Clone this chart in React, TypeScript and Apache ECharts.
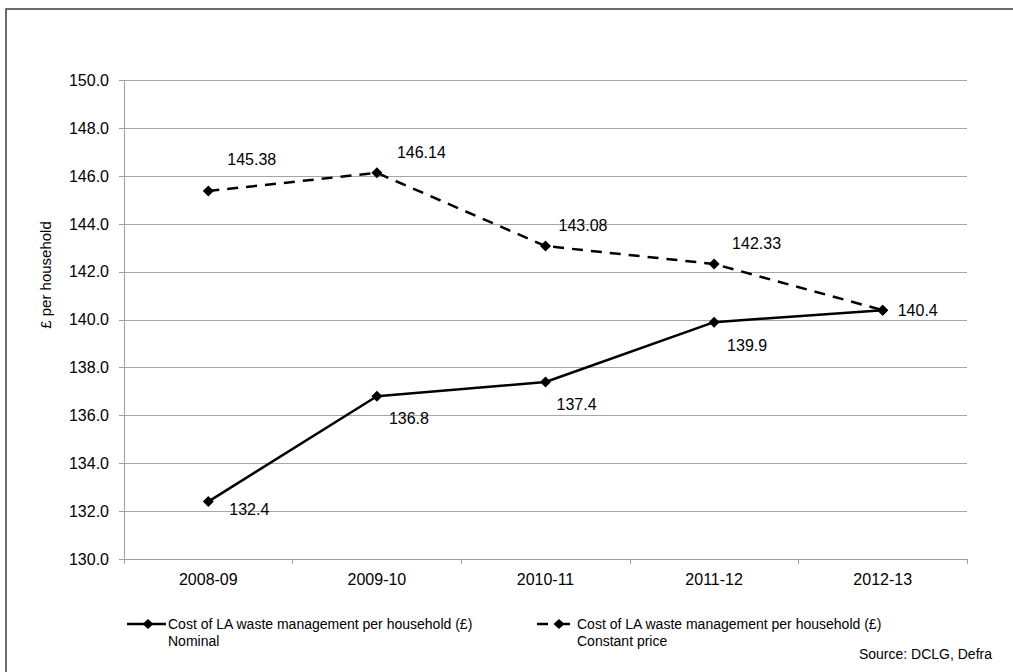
import React, { useEffect, useRef } from "react";
import * as echarts from "echarts";

// Financial years on the category axis
const categories = ["2008-09", "2009-10", "2010-11", "2011-12", "2012-13"];

// Cost of LA waste management per household (£)
const nominalValues = [132.4, 136.8, 137.4, 139.9, 140.4];
const constantValues = [145.38, 146.14, 143.08, 142.33, 140.4];

// Value axis range and step
const yMin = 130;
const yMax = 150;
const yStep = 2;

const seriesNames = [
  "Cost of LA waste management per household (£) Nominal",
  "Cost of LA waste management per household (£) Constant price",
];

// Label placement relative to each point (left edge / vertical middle)
const nominalLabelOffsets: [number, number][] = [
  [21, 8],
  [12, 22],
  [11, 23],
  [13, 23],
  [15, 0],
];
const constantLabelOffsets: [number, number][] = [
  [19, -32],
  [20, -20],
  [13, -21],
  [18, -21],
  [0, 0],
];

const FONT = "'Liberation Sans', Arial, sans-serif";
const SYMBOL = 11;

function buildData(values: number[], offsets: [number, number][], hideLast: boolean) {
  return values.map((v, i) => ({
    value: v,
    label: {
      show: !(hideLast && i === values.length - 1),
      offset: [offsets[i][0] - SYMBOL / 2, offsets[i][1]],
    },
  }));
}

export default function App() {
  const ref = useRef<HTMLDivElement>(null);

  useEffect(() => {
    document.body.style.margin = "0";
    if (!ref.current) return;
    const chart = echarts.init(ref.current, null, { renderer: "svg" });

    const labelStyle = {
      show: true,
      position: "right" as const,
      distance: 0,
      color: "#000",
      fontSize: 16,
      fontFamily: FONT,
      formatter: (p: any) => String(p.value),
    };

    const legendText = (x: number, y: number, text: string) => ({
      type: "text",
      x,
      y,
      style: {
        text,
        fontSize: 14,
        fontFamily: FONT,
        fill: "#000",
        textVerticalAlign: "middle",
      },
    });

    const diamond = (cx: number, cy: number) => ({
      type: "polygon",
      shape: {
        points: [
          [cx, cy - 5],
          [cx + 5.5, cy],
          [cx, cy + 5],
          [cx - 5.5, cy],
        ],
      },
      style: { fill: "#000" },
    });

    chart.setOption({
      animation: false,
      backgroundColor: "#fff",
      grid: { left: 124, right: 46, top: 80.5, bottom: 113, containLabel: false },
      xAxis: {
        type: "category",
        data: categories,
        boundaryGap: true,
        axisLine: { lineStyle: { color: "#a0a0a0", width: 1 } },
        axisTick: { show: true, alignWithLabel: false, length: 5, lineStyle: { color: "#a0a0a0" } },
        axisLabel: { color: "#000", fontSize: 16, fontFamily: FONT, margin: 12 },
      },
      yAxis: {
        type: "value",
        min: yMin,
        max: yMax,
        interval: yStep,
        axisLine: { show: true, lineStyle: { color: "#a0a0a0", width: 1 } },
        axisTick: { show: true, length: 5, lineStyle: { color: "#a0a0a0" } },
        axisLabel: {
          color: "#000",
          fontSize: 16,
          fontFamily: FONT,
          margin: 15,
          formatter: (v: number) => v.toFixed(1),
        },
        splitLine: { show: true, lineStyle: { color: "#a6a6a6", width: 1 } },
      },
      series: [
        {
          name: seriesNames[0],
          type: "line",
          data: buildData(nominalValues, nominalLabelOffsets, false),
          symbol: "diamond",
          symbolSize: SYMBOL,
          itemStyle: { color: "#000" },
          lineStyle: { color: "#000", width: 2.5, type: "solid" },
          label: labelStyle,
          z: 3,
        },
        {
          name: seriesNames[1],
          type: "line",
          data: buildData(constantValues, constantLabelOffsets, true),
          symbol: "diamond",
          symbolSize: SYMBOL,
          itemStyle: { color: "#000" },
          lineStyle: { color: "#000", width: 2.5, type: [11, 8] },
          label: labelStyle,
          z: 2,
        },
      ],
      graphic: [
        // outer frame
        {
          type: "rect",
          shape: { x: 6, y: 9, width: 1030, height: 690 },
          style: { fill: "none", stroke: "#3c3c3c", lineWidth: 1.5 },
          silent: true,
        },
        // value axis title
        {
          type: "text",
          x: 45,
          y: 275,
          rotation: Math.PI / 2,
          style: {
            text: "£ per household",
            fontSize: 15,
            fontFamily: FONT,
            fill: "#000",
            textAlign: "center",
            textVerticalAlign: "middle",
          },
        },
        // legend: nominal
        {
          type: "line",
          shape: { x1: 127, y1: 624, x2: 166, y2: 624 },
          style: { stroke: "#000", lineWidth: 2.5 },
        },
        diamond(148, 624),
        legendText(168, 624, "Cost of LA waste management per household (£)"),
        legendText(168, 641, "Nominal"),
        // legend: constant price
        {
          type: "line",
          shape: { x1: 537, y1: 624, x2: 548, y2: 624 },
          style: { stroke: "#000", lineWidth: 2.5 },
        },
        {
          type: "line",
          shape: { x1: 559, y1: 624, x2: 570, y2: 624 },
          style: { stroke: "#000", lineWidth: 2.5 },
        },
        diamond(559, 624),
        legendText(577, 624, "Cost of LA waste management per household (£)"),
        legendText(577, 641, "Constant price"),
        // source note
        {
          type: "text",
          x: 992,
          y: 654,
          style: {
            text: "Source: DCLG, Defra",
            fontSize: 14,
            fontFamily: FONT,
            fill: "#000",
            textAlign: "right",
            textVerticalAlign: "middle",
          },
        },
      ],
    });

    return () => chart.dispose();
  }, []);

  return <div ref={ref} style={{ width: 1013, height: 672 }} />;
}
